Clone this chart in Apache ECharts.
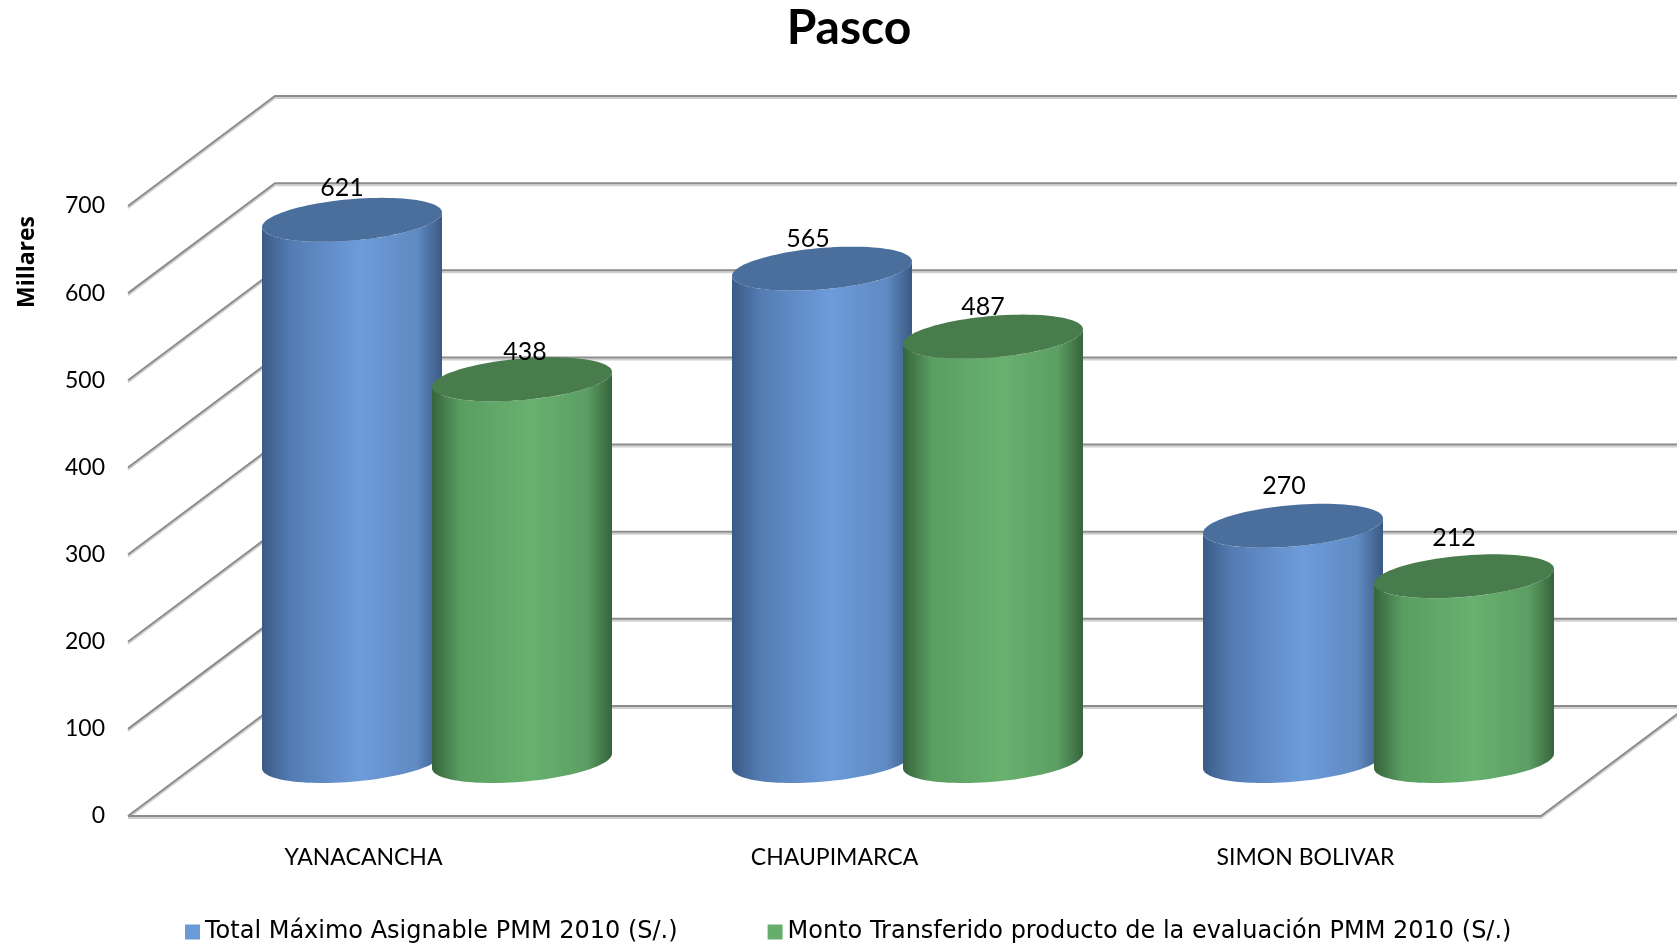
<!DOCTYPE html>
<html>
<head>
<meta charset="utf-8">
<style>html,body{margin:0;padding:0;background:#fff}#c{width:1677px;height:945px}</style>
<script src="https://cdn.jsdelivr.net/npm/echarts@6/dist/echarts.min.js"></script>
</head>
<body>
<div id="c"></div>
<script>
const categories = ['YANACANCHA', 'CHAUPIMARCA', 'SIMON BOLIVAR'];
const seriesNames = ['Total Máximo Asignable PMM 2010 (S/.)', 'Monto Transferido producto de la evaluación PMM 2010 (S/.)'];
const totalMaximo = [621, 565, 270];
const montoTransferido = [438, 487, 212];
const yTicks = [0, 100, 200, 300, 400, 500, 600, 700];

// layout constants
const FONT = 'Lato, "Noto Sans", sans-serif';
const WIDE_FONT = '"Open Sans", "Noto Sans", sans-serif';
const LEGEND_FONT = '"DejaVu Sans", "Noto Sans", sans-serif';
const DEPTH_X = 147, DEPTH_Y = 110;
const RX = 90, SHEAR = 30, RY = 22;
const SLOT = 85;
const labelNudge = [
  [[-10, -32], [-14, -30], [-9, -40]],
  [[3, -27], [-10, -30], [-10, -38]]
];
const palettes = [
  {cap: '#4b6f9d', legend: '#6b9bd6', stops: ['#3a5a86', '#547cb3', '#6d9cda', '#5f8ac2', '#3a5a84']},
  {cap: '#487c4c', legend: '#66ae6d', stops: ['#36643b', '#5a9e62', '#68b16f', '#5c9e63', '#36643b']}
];

function gridItem(params, api) {
  const v = api.value(0);
  const f = api.coord([0, v]);
  const y = f[1];
  const left = params.coordSys.x;
  const right = left + params.coordSys.width;
  const pts = [[left, y], [left + DEPTH_X, y - DEPTH_Y], [right + DEPTH_X, y - DEPTH_Y]];
  const lines = [pts];
  if (v === 0) lines.push([[left, y], [right, y], [right + DEPTH_X, y - DEPTH_Y]]);
  const children = [];
  lines.forEach(p => {
    children.push({type: 'polyline', shape: {points: p.map(q => [q[0], q[1] + 2])},
      style: {fill: 'none', stroke: '#cfcfcf', lineWidth: 2}});
    children.push({type: 'polyline', shape: {points: p},
      style: {fill: 'none', stroke: '#8c8c8c', lineWidth: 2}});
  });
  return {type: 'group', children};
}

function cylinderItem(si) {
  return function (params, api) {
    const idx = api.value(0), val = api.value(1);
    const pal = palettes[si];
    const top = api.coord([idx, val]);
    const base = api.coord([idx, 0]);
    const cx = top[0] + DEPTH_X / 2 + (si === 0 ? -SLOT : SLOT) - (si === 0 && idx > 0 ? 1 : 0);
    const cyTop = top[1] - DEPTH_Y / 2;
    const cyBase = base[1] - DEPTH_Y / 2;
    const a = Math.sqrt(RX * RX - SHEAR * SHEAR);
    const t0 = Math.atan2(SHEAR, a);
    const pt = (t, cy) => [cx + a * Math.cos(t) + SHEAR * Math.sin(t), cy - RY * Math.sin(t)];
    const N = 48;
    const capPts = [], topArc = [], baseArc = [];
    for (let i = 0; i < N * 2; i++) capPts.push(pt(i / (N * 2) * Math.PI * 2, cyTop));
    for (let i = 0; i <= N; i++) {
      const t = t0 + Math.PI + i / N * Math.PI;
      topArc.push(pt(t, cyTop));
      baseArc.push(pt(t, cyBase));
    }
    const body = topArc.concat(baseArc.reverse());
    const nudge = labelNudge[si][idx];
    return {
      type: 'group',
      children: [
        {type: 'polygon', shape: {points: body}, style: {
          fill: new echarts.graphic.LinearGradient(0, 0, 1, 0, [
            {offset: 0, color: pal.stops[0]},
            {offset: 0.16, color: pal.stops[1]},
            {offset: 0.55, color: pal.stops[2]},
            {offset: 0.86, color: pal.stops[3]},
            {offset: 1, color: pal.stops[4]}
          ])
        }},
        {type: 'polygon', shape: {points: capPts}, style: {fill: pal.cap}},
        {type: 'text', x: cx + nudge[0], y: cyTop + nudge[1], style: {
          text: String(val), fill: '#000', font: '25px ' + FONT, align: 'center', verticalAlign: 'middle'
        }}
      ]
    };
  };
}

const chart = echarts.init(document.getElementById('c'), null, {renderer: 'canvas'});
chart.setOption({
  animation: false,
  backgroundColor: '#fff',
  title: {
    text: 'Pasco', left: 844, top: 0, textAlign: 'center',
    textStyle: {fontFamily: FONT, fontSize: 48, fontWeight: 'bold', color: '#000'}
  },
  graphic: [{
    type: 'text', x: 27, y: 262, rotation: Math.PI / 2,
    style: {text: 'Millares', fill: '#000', font: 'bold 23px ' + WIDE_FONT, align: 'center', verticalAlign: 'middle'}
  }],
  legend: {
    data: seriesNames, left: 180, top: 915, icon: 'rect', itemWidth: 15, itemHeight: 15, itemGap: 90,
    textStyle: {fontFamily: LEGEND_FONT, fontSize: 24, color: '#000'}
  },
  grid: {left: 128, right: 136, top: 206, bottom: 129},
  xAxis: {
    type: 'category', data: categories,
    axisLine: {show: false}, axisTick: {show: false}, splitLine: {show: false},
    axisLabel: {fontFamily: FONT, fontSize: 23, color: '#000', margin: 30}
  },
  yAxis: {
    type: 'value', min: 0, max: 700, interval: 100,
    axisLine: {show: false}, axisTick: {show: false}, splitLine: {show: false},
    axisLabel: {fontFamily: FONT, fontSize: 23, color: '#000', margin: 23, padding: [8, 0, 0, 0]}
  },
  series: [
    {type: 'custom', name: 'grid', silent: true, clip: false, z: 1, renderItem: gridItem,
      data: yTicks.map(v => [v]), encode: {y: 0}},
    {type: 'custom', name: seriesNames[0], silent: true, clip: false, z: 2, renderItem: cylinderItem(0),
      itemStyle: {color: palettes[0].legend}, data: totalMaximo.map((v, i) => [i, v]), encode: {x: 0, y: 1}},
    {type: 'custom', name: seriesNames[1], silent: true, clip: false, z: 3, renderItem: cylinderItem(1),
      itemStyle: {color: palettes[1].legend}, data: montoTransferido.map((v, i) => [i, v]), encode: {x: 0, y: 1}}
  ]
});
</script>
</body>
</html>
